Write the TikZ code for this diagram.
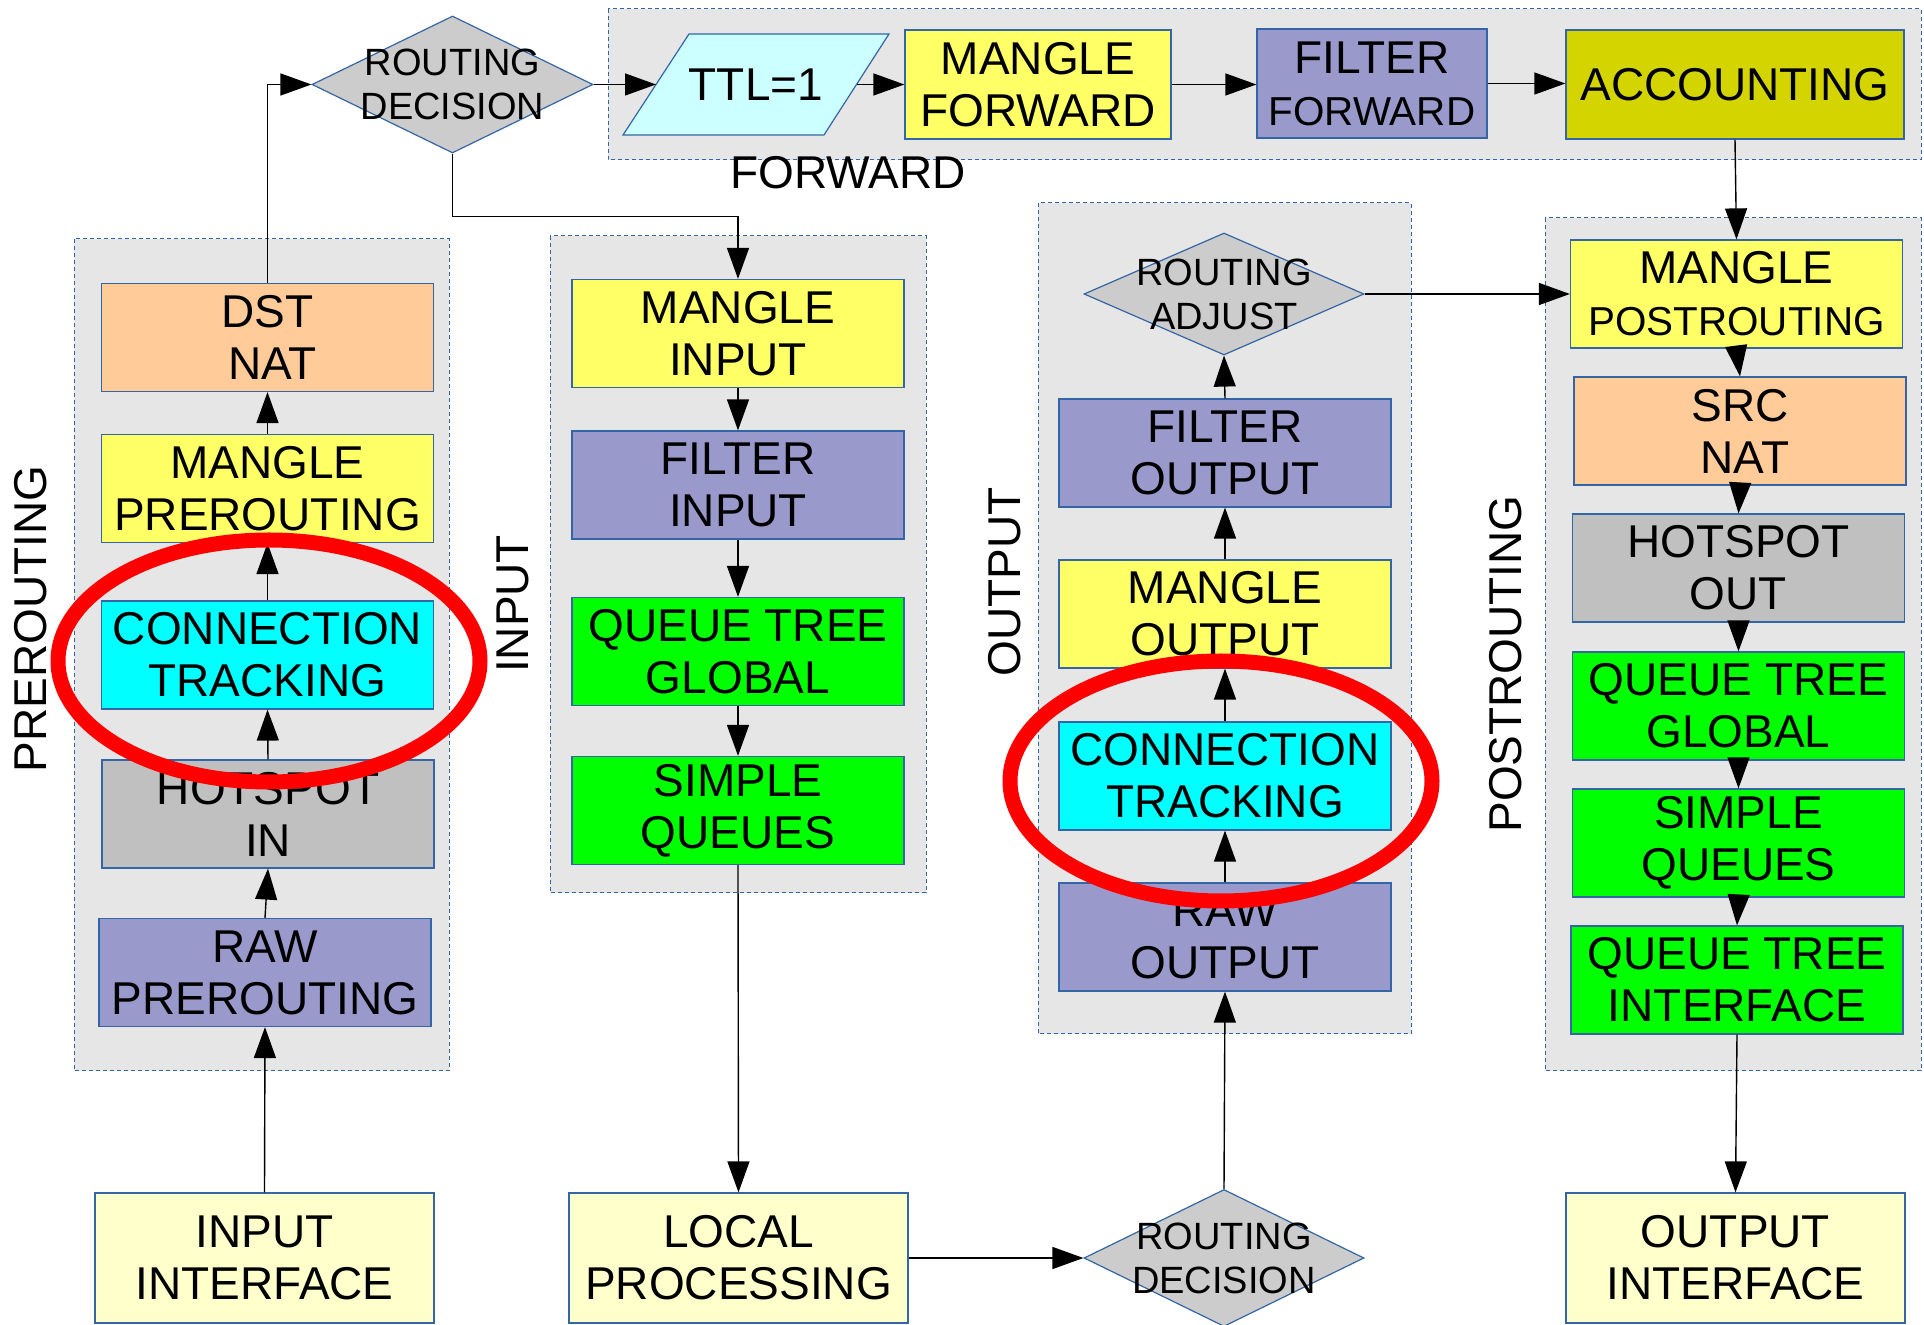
\documentclass[tikz,border=0pt]{standalone}
\usepackage{fontspec}
\setmainfont{Liberation Sans}
\usetikzlibrary{arrows.meta,shapes.geometric}
\definecolor{bord}{HTML}{3465A4}
\definecolor{grp}{HTML}{E6E6E6}
\definecolor{yel}{HTML}{FFFF66}
\definecolor{pur}{HTML}{9999CC}
\definecolor{ora}{HTML}{FFCC99}
\definecolor{cya}{HTML}{00FFFF}
\definecolor{gry}{HTML}{C0C0C0}
\definecolor{grn}{HTML}{00FF00}
\definecolor{accc}{HTML}{D4D400}
\definecolor{ifc}{HTML}{FFFFCC}
\definecolor{dia}{HTML}{CCCCCC}
\definecolor{ttlc}{HTML}{CCFFFF}
\tikzset{
  box/.style={draw=bord, line width=0.6pt, minimum width=166pt, minimum height=54pt, inner sep=0pt, align=center, font=\fontsize{23}{26}\selectfont},
  ifbox/.style={box, minimum width=169.5pt, minimum height=65pt},
  fwbox/.style={box, minimum height=54.5pt},
  grpbox/.style={fill=grp, draw=bord, dash pattern=on 2pt off 1.5pt, line width=0.5pt},
  diam/.style={diamond, draw=bord, fill=dia, line width=0.6pt, minimum width=140.5pt, minimum height=68.5pt, inner sep=0pt},
  dtext/.style={align=center, font=\fontsize{19}{22}\selectfont, inner sep=0pt},
  glabel/.style={font=\fontsize{23}{26}\selectfont, inner sep=0pt},
  arr/.style={-{Triangle[length=15.5pt,width=11pt]}, line width=0.7pt},
  ring/.style={draw=red, line width=7.5pt}
}
\newcommand{\smallline}{\fontsize{20.2}{23.5}\selectfont}
\begin{document}
\begin{tikzpicture}[x=0.5pt,y=-0.5pt]
\useasboundingbox[fill=white] (0,0) rectangle (1924,1325);
% groups
\draw[grpbox] (608,9) rectangle (1921,160);
\draw[grpbox] (74,239) rectangle (449,1071);
\draw[grpbox] (550,236) rectangle (926,893);
\draw[grpbox] (1038,203) rectangle (1411,1034);
\draw[grpbox] (1545,218) rectangle (1921,1071);
% group labels
\node[glabel] (lfwd) at (848,173) {FORWARD};
\node[glabel, rotate=90] (lpre) at (31,619) {PREROUTING};
\node[glabel, rotate=90] (linp) at (513,604) {INPUT};
\node[glabel, rotate=90] (lout) at (1005,582) {OUTPUT};
\node[glabel, rotate=90] (lpost) at (1506,664) {POSTROUTING};
% forward row
\node[diam] (rd1) at (452.5,84.5) {};
\node[dtext] (rd1t) at (452.5,84.5) {ROUTING\\DECISION};
\draw[draw=bord, fill=ttlc, line width=0.6pt] (623,135) -- (689,34) -- (889,34) -- (824,135) -- cycle;
\node[glabel] (ttl) at (756,84.5) {TTL=1};
\coordinate (ttlW) at (656,84.5);
\coordinate (ttlE) at (856.5,84.5);
\node[fwbox, fill=yel, minimum width=133pt] (mf) at (1038,84.5) {MANGLE\\FORWARD};
\node[fwbox, fill=pur, minimum width=115pt] (ff) at (1372,83.5) {FILTER\\\smallline FORWARD};
\node[fwbox, fill=accc, minimum width=169pt] (acc) at (1735,84.5) {ACCOUNTING};
% prerouting
\node[box, fill=ora] (dnat) at (267.5,337.5) {DST\\\hspace*{5pt}NAT};
\node[box, fill=yel] (mpre) at (267.5,488.5) {MANGLE\\PREROUTING};
\node[box, fill=cya] (ctpre) at (267.5,655) {CONNECTION\\TRACKING};
\node[box, fill=gry] (hsin) at (268,814) {HOTSPOT\\IN};
\node[box, fill=pur] (rawpre) at (265,972.5) {RAW\\PREROUTING};
\node[ifbox, fill=ifc] (inif) at (264.5,1258) {INPUT\\INTERFACE};
% input
\node[box, fill=yel] (mi) at (738,333.5) {MANGLE\\INPUT};
\node[box, fill=pur] (fi) at (738,485) {FILTER\\INPUT};
\node[box, fill=grn] (qtgi) at (738,651.5) {QUEUE TREE\\GLOBAL};
\node[box, fill=grn] (sqi) at (738,810.5) {SIMPLE\\QUEUES};
\node[ifbox, fill=ifc] (lp) at (738.5,1258) {LOCAL\\PROCESSING};
% output
\node[diam, minimum width=140pt, minimum height=61pt] (ra) at (1224,294) {};
\node[dtext] (rat) at (1224,294) {ROUTING\\ADJUST};
\node[box, fill=pur] (fo) at (1225,453) {FILTER\\OUTPUT};
\node[box, fill=yel] (mo) at (1225,614) {MANGLE\\OUTPUT};
\node[box, fill=cya] (cto) at (1225,776) {CONNECTION\\TRACKING};
\node[box, fill=pur] (rawo) at (1225,937) {RAW\\OUTPUT};
\node[diam, minimum width=140pt] (rd2) at (1224,1258) {};
\node[dtext] (rd2t) at (1224,1258) {ROUTING\\DECISION};
% postrouting
\node[box, fill=yel] (mpo) at (1736.5,294) {MANGLE\\\smallline POSTROUTING};
\node[box, fill=ora] (snat) at (1740,431) {SRC\\\hspace*{5pt}NAT};
\node[box, fill=gry] (hso) at (1738.5,568) {HOTSPOT\\OUT};
\node[box, fill=grn] (qtgo) at (1738.5,706) {QUEUE TREE\\GLOBAL};
\node[box, fill=grn] (sqo) at (1738.5,843) {SIMPLE\\QUEUES};
\node[box, fill=grn] (qti) at (1737,980) {QUEUE TREE\\INTERFACE};
\node[ifbox, fill=ifc] (oif) at (1735.5,1258) {OUTPUT\\INTERFACE};
% connectors
\draw[arr] (inif.north) -- (rawpre.south);
\draw[arr] (rawpre.north) -- (hsin.south);
\draw[arr] (hsin.north) -- (ctpre.south);
\draw[arr] (ctpre.north) -- (mpre.south);
\draw[arr] (mpre.north) -- (dnat.south);
\draw[arr] (dnat.north) |- (rd1.west);
\draw[arr] (rd1.east) -- (ttlW);
\draw[arr] (ttlE) -- (mf.west);
\draw[arr] (mf.east) -- (mf.east -| ff.west);
\draw[arr] (ff.east) -- (ff.east -| acc.west);
\draw[arr] (acc.south) -- (mpo.north);
\draw[arr] (rd1.south) -- ++(0,63) -| (mi.north);
\draw[arr] (mi.south) -- (fi.north);
\draw[arr] (fi.south) -- (qtgi.north);
\draw[arr] (qtgi.south) -- (sqi.north);
\draw[arr] (sqi.south) -- (lp.north);
\draw[arr] (lp.east) -- (rd2.west);
\draw[arr] (rd2.north) -- (rawo.south);
\draw[arr] (rawo.north) -- (cto.south);
\draw[arr] (cto.north) -- (mo.south);
\draw[arr] (mo.north) -- (fo.south);
\draw[arr] (fo.north) -- (ra.south);
\draw[arr] (ra.east) -- (mpo.west);
\draw[arr] (mpo.south) -- (snat.north);
\draw[arr] (snat.south) -- (hso.north);
\draw[arr] (hso.south) -- (qtgo.north);
\draw[arr] (qtgo.south) -- (sqo.north);
\draw[arr] (sqo.south) -- (qti.north);
\draw[arr] (qti.south) -- (oif.north);
% highlight rings
\draw[ring] (269,661) ellipse [x radius=105.5pt, y radius=60.5pt];
\draw[ring] (1221,781) ellipse [x radius=105.5pt, y radius=60pt];
\end{tikzpicture}
\end{document}
